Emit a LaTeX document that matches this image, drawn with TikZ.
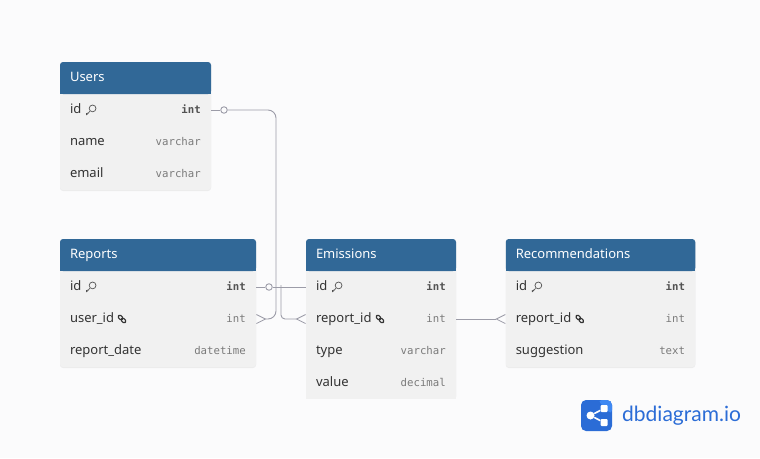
\documentclass[tikz,border=0pt]{standalone}
\usepackage{fontspec}
\usepackage{tikz}
\usetikzlibrary{arrows.meta,backgrounds,shadows}
\setmainfont{Noto Sans}
\setmonofont{DejaVu Sans Mono}
\newfontfamily\logofont{Lato}
\definecolor{pagefill}{HTML}{FBFBFC}
\definecolor{headfill}{HTML}{316897}
\definecolor{bodyfill}{HTML}{F1F1F1}
\definecolor{linegray}{HTML}{9C9CA8}
\definecolor{rowtext}{HTML}{333333}
\definecolor{typetext}{HTML}{7A7A7A}
\definecolor{logoblue}{HTML}{2B6CD6}
\definecolor{logolight}{HTML}{3F88F2}
\tikzset{
    tablehead/.style={text=white,font=\fontsize{13}{15}\selectfont\bfseries,anchor=center,
        minimum height=32pt,inner xsep=10pt,inner ysep=0pt,outer sep=0pt,align=left,
        text width=#1,text height=10pt,text depth=3pt},
    tablerow/.style={text=rowtext,font=\fontsize{13}{15}\selectfont,
        minimum height=32pt,inner xsep=10pt,inner ysep=0pt,outer sep=0pt,align=left,
        text width=#1,text height=10pt,text depth=3pt},
    rowtype/.style={label={[text=typetext,font=\fontsize{10.7}{13}\ttfamily,anchor=east,
        xshift=-10pt,inner sep=0pt,text height=8pt,text depth=2pt]east:#1}},
    keytype/.style={label={[text=rowtext!85,font=\fontsize{10.7}{13}\ttfamily\bfseries,anchor=east,
        xshift=-10pt,inner sep=0pt,text height=8pt,text depth=2pt]east:#1}},
    relline/.style={draw=linegray,line width=.9pt},
    manyend/.style={-{Straight Barb[reversed,length=9pt,width=9pt,line width=.8pt]}},
    onemark/.style={circle,draw=linegray,fill=pagefill,line width=.9pt,minimum size=6.5pt,inner sep=0pt},
    keyicon/.pic={
        \draw[rowtext!85,line width=.7pt,rounded corners=.6pt] (-4.6,5) -- (-1.2,1.4) (-4.6,5) -- (-4.6,3.2) (-3.2,3.6) -- (-3.2,2.6);
        \draw[rowtext!85,line width=.7pt] (1.6,-1.6) circle (3.4pt);
    },
    linkicon/.pic={
        \draw[rowtext,line width=1.1pt,rounded corners=1.4pt,rotate=-45] (-4.6,-1.7) rectangle (.4,1.7);
        \draw[rowtext,line width=1.1pt,rounded corners=1.4pt,rotate=-45] (-.4,-1.7) rectangle (4.6,1.7);
    },
}
\newcommand{\tableback}[2]{
    \begin{scope}[on background layer]
        \fill[bodyfill,rounded corners=3pt,drop shadow={shadow xshift=0pt,shadow yshift=-1pt,opacity=.12}] (#1.north west) rectangle (#2.south east);
        \fill[headfill,rounded corners=3pt] (#1.north west) rectangle (#1.south east);
        \fill[headfill] (#1.west) rectangle (#1.south east);
    \end{scope}
}
\begin{document}
\begin{tikzpicture}[x=1pt,y=-1pt,node distance=32pt]
    \begin{scope}[on background layer]
        \fill[pagefill] (0,0) rectangle (760,458);
    \end{scope}
    \useasboundingbox (0,0) rectangle (760,458);

    % Users
    \node (Users) [tablehead=131pt] at (135.5,78) {Users};
    \node (uid) [tablerow=131pt,below of=Users,keytype=int] {\textbf{id}};
    \node (uname) [tablerow=131pt,below of=uid,rowtype=varchar] {name};
    \node (uemail) [tablerow=131pt,below of=uname,rowtype=varchar] {email};
    \tableback{Users}{uemail}
    \pic at ([xshift=31pt]uid.west) {keyicon};

    % Reports
    \node (Reports) [tablehead=176pt] at (158,255) {Reports};
    \node (rid) [tablerow=176pt,below of=Reports,keytype=int] {\textbf{id}};
    \node (ruser) [tablerow=176pt,below of=rid,rowtype=int] {user\_id};
    \node (rdate) [tablerow=176pt,below of=ruser,rowtype=datetime] {report\_date};
    \tableback{Reports}{rdate}
    \pic at ([xshift=31pt]rid.west) {keyicon};
    \pic at ([xshift=62pt]ruser.west) {linkicon};

    % Emissions
    \node (Emissions) [tablehead=130pt] at (381,255) {Emissions};
    \node (eid) [tablerow=130pt,below of=Emissions,keytype=int] {\textbf{id}};
    \node (ereport) [tablerow=130pt,below of=eid,rowtype=int] {report\_id};
    \node (etype) [tablerow=130pt,below of=ereport,rowtype=varchar] {type};
    \node (evalue) [tablerow=130pt,below of=etype,rowtype=decimal] {value};
    \tableback{Emissions}{evalue}
    \begin{scope}[on background layer]
        \fill[bodyfill] (evalue.west) rectangle (evalue.south east);
        \fill[pagefill] ([xshift=-8pt]evalue.south west) rectangle ([xshift=8pt,yshift=-8pt]evalue.south east);
    \end{scope}
    \pic at ([xshift=31pt]eid.west) {keyicon};
    \pic at ([xshift=74pt]ereport.west) {linkicon};

    % Recommendations
    \node (Recommendations) [tablehead=169.5pt] at (600.5,255) {Recommendations};
    \node (cid) [tablerow=169.5pt,below of=Recommendations,keytype=int] {\textbf{id}};
    \node (creport) [tablerow=169.5pt,below of=cid,rowtype=int] {report\_id};
    \node (csugg) [tablerow=169.5pt,below of=creport,rowtype=text] {suggestion};
    \tableback{Recommendations}{csugg}
    \pic at ([xshift=31pt]cid.west) {keyicon};
    \pic at ([xshift=74pt]creport.west) {linkicon};

    % connectors
    \coordinate (bendA) at (276,200);
    \coordinate (bendB) at (281,285);
    \node (ucirc) [onemark] at ([xshift=13pt]uid.east) {};
    \node (rcirc) [onemark] at ([xshift=13pt]rid.east) {};
    \draw[relline] (uid.east) -- (ucirc);
    \draw[relline] (rid.east) -- (rcirc);
    \draw[relline] (rcirc) -- (eid.west);
    \draw[relline,manyend,rounded corners=8pt] (ucirc) -- (ucirc -| bendA) -- (bendA |- ruser) -- (ruser.east);
    \draw[relline,manyend,rounded corners=4pt] (bendB) -- (bendB |- ereport) -- (ereport.west);
    \draw[relline,manyend] (ereport.east) -- (creport.west);

    % logo
    \fill[logoblue,rounded corners=5pt] (581,400) rectangle (612,431);
    \fill[logolight,rounded corners=5pt] (597,400) -- (612,400) -- (612,415) -- cycle;
    \node (logohub) [circle,fill=white,minimum size=8pt,inner sep=0pt] at (590.5,415.5) {};
    \node (logotop) [rectangle,rounded corners=1pt,fill=white,minimum size=7pt,inner sep=0pt] at (604,408.5) {};
    \node (logobot) [rectangle,rounded corners=1pt,fill=white,minimum size=7pt,inner sep=0pt] at (604,422.5) {};
    \draw[white,line width=1.6pt] (logohub) -- (logotop);
    \draw[white,line width=1.6pt] (logohub) -- (logobot);
    \node (logotext) [anchor=west,inner sep=0pt,text=logoblue,font=\logofont\fontsize{21}{24}\selectfont] at (622,416) {dbdiagram.io};
\end{tikzpicture}
\end{document}
